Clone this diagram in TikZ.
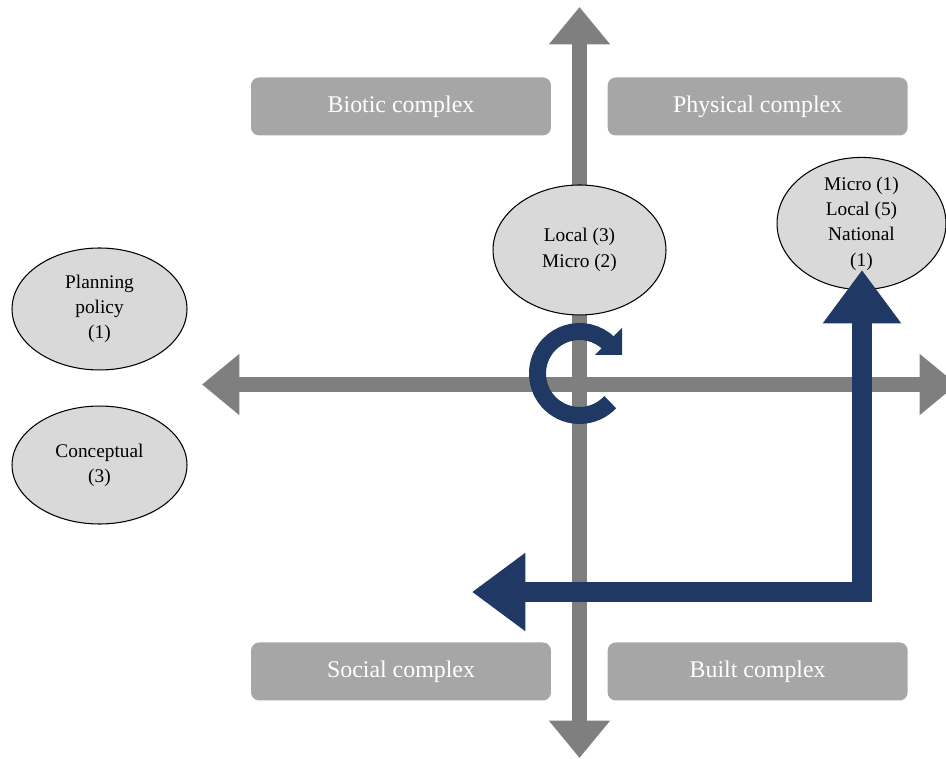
\documentclass[tikz,border=0pt]{standalone}
\usepackage{fontspec}
\setmainfont{Liberation Serif}
\usetikzlibrary{positioning, arrows.meta, shapes.geometric}

\definecolor{axisgray}{HTML}{7F7F7F}
\definecolor{boxgray}{HTML}{A6A6A6}
\definecolor{ovalgray}{HTML}{D9D9D9}
\definecolor{navy}{HTML}{1F3864}

\begin{document}
\begin{tikzpicture}[
  x = 0.02cm, y = 0.02cm,
  node distance = 1.12cm,
  complex/.style = {
    rectangle, rounded corners=0.16cm, fill=boxgray,
    minimum width=6cm, minimum height=1.16cm, inner sep=0pt,
    text=white, font=\fontsize{13.6}{16}\selectfont
  },
  levels/.style = {
    ellipse, draw, fill=ovalgray, line width=0.6pt, inner sep=0pt,
    align=center, font=\fontsize{11}{14.4}\selectfont
  },
  axis/.style = {
    draw=axisgray, line width=0.3cm,
    {Triangle[width=1.18cm, length=0.75cm]}-{Triangle[width=1.18cm, length=0.75cm]}
  },
  flow/.style = {
    draw=navy, line width=0.4cm, line join=miter,
    {Triangle[width=1.5cm, length=1.07cm]}-{Triangle[width=1.5cm, length=1.07cm]}
  }
]

\useasboundingbox (0,0) rectangle (946,759);
\clip (0,0) rectangle (946,759);

\coordinate (west) at (202,374.5);
\coordinate (east) at (957,374.5);
\coordinate (north) at (579.5,752);
\coordinate (south) at (579.5,1);

\draw[axis] (west) -- (east);
\draw[axis] (north) -- (south);

\node[complex] (biotic) at (401,652.5) {Biotic complex};
\node[complex, right = of biotic] (physical) {Physical complex};
\node[complex] (social) at (401,87.5) {Social complex};
\node[complex, right = of social] (built) {Built complex};

\node[levels, minimum width=3.46cm, minimum height=2.6cm] (locmic) at (579.5,509) {Local (3)\\Micro (2)};
\node[levels, minimum width=3.38cm, minimum height=2.46cm] (micnat) at (861.5,535.5) {Micro (1)\\Local (5)\\National\\(1)};
\node[levels, minimum width=3.5cm, minimum height=2.44cm] (planning) at (99.5,450) {Planning\\policy\\(1)};
\node[levels, minimum width=3.5cm, minimum height=2.36cm, below = 0.7cm of planning] (conceptual) {Conceptual\\(3)};

\coordinate (loop) at (579.5,385.5);
\draw[navy, line width=0.34cm] (loop) ++(-43:42) arc[start angle=-43, end angle=-315, radius=42];
\fill[navy] (loop) ++(15.5,18.5) -- ++(27,27) -- ++(0,-27) -- cycle;

\coordinate (back) at (472,167);
\coordinate (turn) at (862,167);
\coordinate (rise) at (862,489);
\draw[flow] (back) -- (turn) -- (rise);

\end{tikzpicture}
\end{document}
